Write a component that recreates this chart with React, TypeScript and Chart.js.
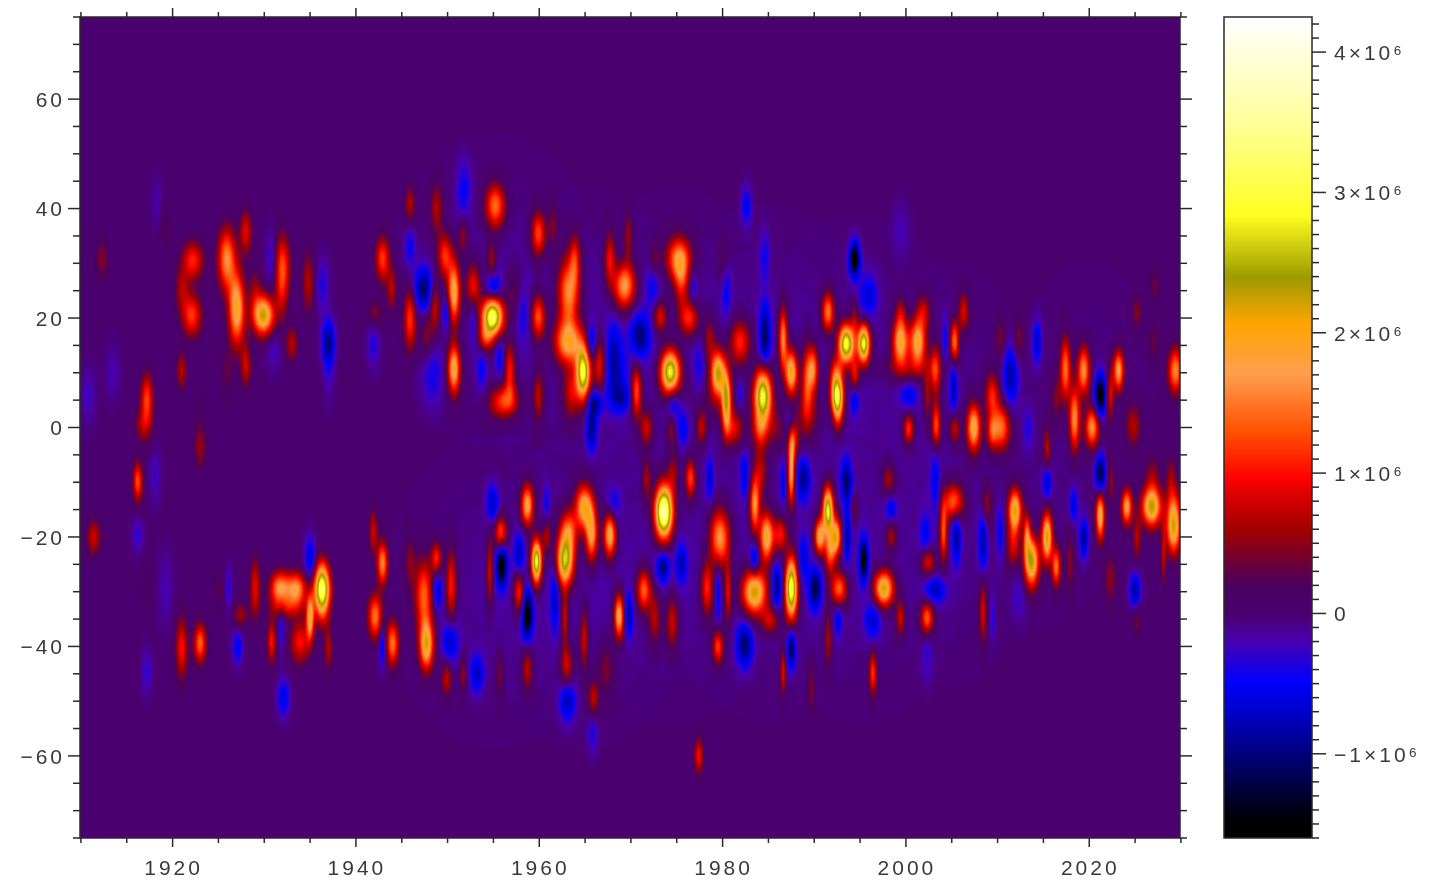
import React, { useEffect, useRef } from "react";
import { Chart, registerables } from "chart.js";
Chart.register(...registerables);

type Blob = [number, number, number, number, number]; // year, latitude, value (10^6), spread in years, spread in degrees

const north1910s: Blob[] = [
  [1912.4, 30.8, 0.45, 0.4, 2.5], [1913.5, 10.1, -0.2, 0.4, 3], [1910.9, 5.9, -0.25, 0.4, 3],
  [1917.3, 5.3, 1.2, 0.35, 2.8], [1916.9, 0.4, 0.6, 0.5, 2], [1919.3, 36.3, 0.25, 0.3, 2.5],
  [1918.4, 41.1, -0.15, 0.3, 3], [1923.1, 4.6, 0.2, 0.3, 2.5], [1923.1, -2.6, 0.3, 0.4, 2.5],
];
const north1920s: Blob[] = [
  [1922.3, 30.5, 1.1, 0.6, 2.2], [1922.2, 20.5, 1.2, 0.55, 2.4], [1921.1, 25.3, 0.6, 0.4, 2.5],
  [1926, 30.8, 1.6, 0.5, 3.5], [1927.1, 21.7, 2.0, 0.45, 4], [1928.1, 35.7, 0.9, 0.35, 2.5],
  [1929.1, 25.3, 0.5, 0.35, 2.5], [1928.1, 11.3, 0.8, 0.3, 2.5], [1926, 10.1, 0.3, 0.4, 3],
  [1921.1, 10.4, 0.7, 0.3, 2.2],
];
const north1930s: Blob[] = [
  [1930, 20.5, 2.3, 0.6, 2.2], [1932.1, 29.6, 1.2, 0.42, 3.5], [1932, 24, 0.5, 0.35, 3],
  [1934.9, 26.5, 0.7, 0.35, 3.5], [1937.1, 15.6, -1.0, 0.35, 2.5], [1937.1, 9.5, -0.2, 0.3, 3],
  [1936.4, 26, -0.35, 0.4, 3], [1930.9, 30.8, -0.35, 0.3, 3], [1933.1, 15.3, 0.7, 0.35, 2],
  [1931.1, 14.4, -0.25, 0.4, 2.5],
];
const north1940s: Blob[] = [
  [1942, 15, -0.35, 0.35, 2.5], [1943, 30.8, 1.2, 0.4, 2.5], [1944, 25.3, 0.7, 0.3, 2.5],
  [1942.2, 21, 0.45, 0.4, 1.5], [1946, 40.8, 0.7, 0.3, 2.2], [1946, 33.2, -0.45, 0.3, 2.5],
  [1946, 19.9, 1.2, 0.35, 3.5], [1947.5, 25.3, -1.0, 0.6, 2.5], [1948.9, 40, 0.7, 0.35, 3],
  [1949.8, 31.4, 1.2, 0.4, 2.5], [1948.7, 22.3, 0.9, 0.3, 3], [1950, 21, -0.6, 0.25, 2],
  [1948.5, 9.5, -0.4, 0.6, 3.5], [1947.8, 16.8, 0.5, 0.35, 2.5],
];
const north1950s: Blob[] = [
  [1950.8, 24.7, 2.0, 0.35, 3.5], [1950.8, 10.7, 2.0, 0.35, 2.8], [1952.9, 25.9, 1.1, 0.4, 2.5],
  [1951.8, 35, 0.6, 0.25, 2], [1955.3, 40.5, 1.5, 0.55, 2.5], [1954.9, 30.8, 0.65, 0.25, 2],
  [1955.1, 25.6, -0.7, 0.4, 1.5], [1955, 20.2, 3.3, 0.6, 2.2], [1954.2, 16.2, 1.0, 0.4, 1.5],
  [1952.9, 19.9, -0.4, 0.2, 3], [1951.8, 42.4, -0.3, 0.4, 3], [1955.8, 13.2, -0.45, 0.25, 2.5],
  [1956.9, 10.7, 1.1, 0.3, 3], [1955.8, 4.6, 0.9, 0.7, 1.8], [1956.9, 5.2, 0.7, 0.6, 1.8],
  [1953.8, 10.7, -0.4, 0.3, 3], [1958.4, 20.5, -0.3, 0.4, 3], [1957.3, 24.7, 0.4, 0.4, 3],
  [1951.9, 45.4, -0.2, 0.4, 3],
];
const north1960s: Blob[] = [
  [1960, 35.4, 1.3, 0.4, 2.5], [1961.6, 36.9, 0.5, 0.3, 2.5], [1960, 20.2, 1.4, 0.4, 2.5],
  [1960, 5.9, 0.8, 0.3, 3], [1963.3, 24.7, 1.7, 0.6, 4], [1964, 30.8, 0.9, 0.3, 3],
  [1963.3, 15.6, 1.9, 0.8, 2.5], [1964.9, 10.1, 3.0, 0.4, 3], [1963.6, 6.5, 0.9, 0.5, 3],
  [1966.7, 11.3, 1.1, 0.35, 3], [1965.8, 15.6, -0.7, 0.3, 2], [1968.4, 8.9, -0.6, 0.7, 3.5],
  [1968.2, 15, -0.5, 0.4, 3], [1969.1, 5.3, -0.5, 0.6, 1.5], [1966.2, 4.6, -0.9, 0.4, 1.5],
  [1965.8, -0.2, -0.9, 0.3, 2.5], [1967.8, 30.8, 1.0, 0.3, 3], [1969.8, 35, 0.6, 0.25, 3],
  [1969.4, 25.9, 1.8, 0.6, 2.5],
];
const north1970s: Blob[] = [
  [1971.1, 16.8, -0.9, 0.55, 2.5], [1973.3, 20.2, 1.0, 0.4, 1.8], [1972.5, 26, -0.4, 0.4, 3],
  [1970.7, 6.5, 1.4, 0.3, 3], [1971.8, 0, 0.9, 0.35, 2], [1972.7, 30.8, 0.5, 0.3, 2],
  [1974.4, 10.1, 3.0, 0.55, 2.5], [1974.7, 4.6, -0.6, 0.35, 2], [1974.5, -0.2, 0.6, 0.25, 1.8],
  [1975.8, -0.2, -0.5, 0.3, 2], [1975.3, 30.8, 1.6, 0.7, 2.5], [1975.6, 26.5, 1.0, 0.4, 3],
  [1976.4, 19.9, 1.2, 0.55, 2], [1976.9, 25.9, -0.4, 0.2, 2], [1978.7, 16.2, 0.7, 0.35, 2.5],
  [1977.8, 0, 0.8, 0.3, 2], [1977.6, 10.7, -0.35, 0.3, 3], [1979.6, 10.1, 2.2, 0.4, 2.5],
];
const north1980s: Blob[] = [
  [1982, 15.6, 1.2, 0.6, 2.5], [1980.5, 25.3, -0.45, 0.25, 3], [1982.7, 40.5, -0.55, 0.3, 2.2],
  [1984.7, 31.4, -0.4, 0.3, 3], [1984.7, 16.8, -1.0, 0.3, 3.5], [1980.5, 4.6, 2.0, 0.25, 3.5],
  [1982, 5.9, -0.5, 0.25, 2], [1984.5, 5.9, 3.0, 0.5, 3], [1986.7, 16.2, 1.7, 0.25, 3.5],
  [1987.6, 10.1, 2.2, 0.35, 2.5], [1989.3, 8.9, 1.2, 0.3, 4], [1981.3, -0.2, 0.9, 0.5, 2],
  [1987.3, 0.4, -0.6, 0.3, 2], [1984.2, -0.2, 0.8, 0.4, 2], [1987.8, -2.6, 0.9, 0.3, 2],
  [1980.2, 30.2, 0.3, 0.3, 2.5], [1980, 6, 0.5, 1.2, 3], [1986, 0, 0.5, 1.5, 2.5],
];
const north1990s: Blob[] = [
  [1994.5, 30.8, -1.6, 0.3, 2], [1996, 24.1, -0.6, 0.5, 2.5], [1991.6, 21.1, 1.6, 0.35, 2.2],
  [1993.6, 15.3, 3.1, 0.45, 2.2], [1995.5, 15.3, 3.0, 0.35, 2.2], [1992.6, 5.9, 2.9, 0.35, 2.2],
  [1992.5, 10.1, 1.0, 0.4, 2], [1992.7, 2.2, 0.9, 0.3, 2], [1990, 10.7, 1.5, 0.3, 2.5],
  [1994.5, 9.5, 1.0, 0.25, 2], [1994.5, 5.3, -0.6, 0.25, 1.7], [1994.5, 19.9, 0.6, 0.2, 2],
  [1999.5, 15.6, 2.0, 0.45, 2.6], [1999.5, 21, 0.6, 0.3, 2], [1999.5, 36.3, -0.2, 0.5, 3],
  [1989.5, 3, 0.6, 0.6, 3],
];
const north2000s: Blob[] = [
  [2001.4, 15.6, 2.0, 0.45, 2.6], [2002, 21.1, 0.8, 0.4, 2], [2003.3, 10.4, 1.2, 0.3, 3],
  [2000.4, 5.9, -0.5, 0.5, 1.5], [2000.4, -0.2, 1.2, 0.3, 1.7], [2003.4, 0.4, 1.4, 0.25, 2.5],
  [2002.4, 5.9, 0.7, 0.2, 3], [2005.4, 15.6, 1.6, 0.25, 2.3], [2006.4, 21.1, 0.9, 0.3, 2.2],
  [2005.3, 7.7, -0.7, 0.2, 3.5], [2004.4, 16.2, -0.4, 0.2, 2.5], [2005.4, -0.2, 0.9, 0.3, 1.8],
  [2007.5, 0, 2.0, 0.4, 2.7], [2009.5, 5.9, 1.1, 0.4, 2.5], [2000.5, 11, 0.5, 1.6, 1.5],
];
const north2010s: Blob[] = [
  [2010.5, 0, 1.5, 0.5, 2.5], [2009.5, -0.8, 1.0, 0.3, 2], [2011.5, 9.5, -0.8, 0.45, 3.5],
  [2013.4, -0.2, -0.35, 0.3, 2.5], [2014.4, 15.6, -0.7, 0.25, 2.5], [2010.4, 16.2, 0.45, 0.3, 2.5],
  [2012.4, 16.2, 0.45, 0.3, 2.5], [2017.5, 10.7, 1.5, 0.3, 3.5], [2019.5, 10.4, 1.7, 0.35, 2.7],
  [2018.5, 1.6, 1.7, 0.3, 3.5], [2016.5, 5.3, 0.5, 0.3, 2.5], [2015.5, -3.8, 0.8, 0.2, 2.5],
];
const north2020s: Blob[] = [
  [2020.4, 0, 1.7, 0.4, 2.2], [2021.3, 5.9, -1.6, 0.3, 2.3], [2022.4, 5.9, 0.9, 0.2, 3],
  [2023.3, 10.4, 1.8, 0.3, 2.3], [2024.9, 0.4, 0.7, 0.45, 2.5], [2025.3, 21.1, 0.5, 0.3, 2],
  [2027.3, 25.9, 0.35, 0.3, 2], [2029.5, 10.4, 1.6, 0.4, 2.5], [2027.1, 15.6, 0.35, 0.3, 2.5],
];

const south1910s: Blob[] = [
  [1916.3, -9.9, 1.3, 0.27, 2.2], [1911.5, -20, 0.8, 0.4, 2], [1916.3, -19.6, -0.3, 0.3, 2],
  [1918.2, -8.7, -0.25, 0.3, 3], [1923.1, -4.4, 0.3, 0.3, 2.5], [1917.3, -29.4, 0.2, 0.3, 2.5],
  [1919.3, -29.4, -0.2, 0.4, 4], [1917.3, -44.6, -0.3, 0.3, 2.5],
];
const south1920s: Blob[] = [
  [1921.1, -40.3, 1.0, 0.35, 3.5], [1923.1, -39.4, 1.4, 0.35, 2.2], [1927.2, -40, -0.55, 0.3, 2],
  [1926.2, -29.4, -0.35, 0.2, 2.5], [1925.1, -29.4, 0.3, 0.3, 2.5], [1929.1, -29.4, 0.9, 0.3, 3.5],
  [1927.5, -34.2, 0.6, 0.4, 1.5],
];
const south1930s: Blob[] = [
  [1932.2, -49.4, -0.6, 0.35, 2.2], [1931.8, -29.4, 1.7, 0.55, 1.9], [1933.6, -29.6, 1.7, 0.55, 1.9],
  [1930.9, -39.1, 1.0, 0.25, 2.5], [1932.5, -33, 0.6, 0.9, 1.2], [1934, -39.1, 1.0, 0.55, 2.5],
  [1935.1, -34.8, 1.9, 0.22, 2.5], [1935.1, -23.9, -0.7, 0.3, 2.5], [1936.4, -29.7, 2.8, 0.45, 2.2],
  [1937.1, -40.3, 0.7, 0.25, 2.5], [1936.4, -26.3, 0.9, 0.4, 2], [1936.4, -33.6, 0.9, 0.4, 2],
  [1932, -36, -0.4, 0.2, 3],
];
const south1940s: Blob[] = [
  [1942, -19, 0.8, 0.25, 2.5], [1943, -24.8, 1.6, 0.3, 2.4], [1942.2, -34.5, 1.5, 0.4, 2.5],
  [1944.1, -39.4, 1.5, 0.35, 2.5], [1943, -39.7, -0.7, 0.2, 2.5], [1947.5, -30.6, 1.4, 0.5, 4],
  [1947.8, -39.7, 2.1, 0.4, 2.8], [1946, -24.5, 0.5, 0.3, 3], [1948.9, -23.9, 1.1, 0.3, 1.8],
  [1949, -29.7, -0.7, 0.3, 2.2], [1950, -45.8, 0.8, 0.3, 2],
];
const south1950s: Blob[] = [
  [1950.4, -39.1, -0.7, 0.45, 2.5], [1950.5, -28.8, 1.1, 0.3, 4], [1951.8, -45.2, 0.6, 0.2, 2],
  [1953.3, -44.9, -0.7, 0.4, 2.2], [1955.8, -45.2, 0.5, 0.2, 2.5], [1954.7, -26.3, 0.9, 0.2, 4],
  [1955, -13.9, -0.7, 0.35, 2.2], [1955.9, -19.3, 1.4, 0.35, 1.9], [1956, -25.1, -1.5, 0.3, 2.5],
  [1957.9, -23.3, -0.7, 0.3, 2.5], [1958.8, -14.2, 1.9, 0.35, 2.3], [1957.9, -30, 1.2, 0.3, 2.4],
  [1958.8, -34.2, -1.5, 0.3, 2.8], [1958.8, -44, 0.8, 0.3, 2.5], [1959.8, -24.5, 3.0, 0.3, 2.5],
];
const south1960s: Blob[] = [
  [1960.9, -19.6, 0.8, 0.25, 2], [1960.9, -14.2, -0.4, 0.2, 2.5], [1961.8, -30.6, -0.7, 0.25, 4],
  [1962.9, -34.8, 0.9, 0.2, 3], [1962.9, -24.5, 2.6, 0.5, 2.8], [1963.3, -19, 1.4, 0.5, 2.5],
  [1963.1, -43.4, 0.9, 0.35, 2.3], [1963.2, -50, -0.75, 0.45, 2.3], [1965, -14.5, 2.0, 0.5, 2.5],
  [1965.8, -19.6, 1.8, 0.35, 3], [1965, -38.5, 0.9, 0.25, 3.5], [1966, -49.4, 0.8, 0.3, 2],
  [1967.8, -19.6, 2.0, 0.35, 2.5], [1968.2, -14.2, -0.45, 0.4, 2], [1967.4, -44, 0.5, 0.45, 3],
  [1968.8, -34.5, 2.0, 0.28, 2.5], [1969.9, -34.2, -0.8, 0.22, 2.5], [1965.9, -55.8, -0.35, 0.3, 2.5],
];
const south1970s: Blob[] = [
  [1971.5, -29.7, 1.5, 0.4, 2.3], [1971.8, -9.3, 0.7, 0.25, 2.5], [1973.7, -15.4, 3.8, 0.5, 3],
  [1973.6, -25.4, -0.9, 0.35, 1.7], [1975.6, -24.8, -0.7, 0.3, 2.2], [1976.6, -9.3, 1.3, 0.3, 2.2],
  [1974.7, -8.1, 0.6, 0.3, 2.5], [1978.7, -9.3, -0.6, 0.2, 2.5], [1972.7, -34.8, 0.8, 0.35, 3],
  [1974.6, -35.5, 0.9, 0.35, 3], [1979.8, -20.2, 1.8, 0.55, 3.2], [1978.4, -29.4, 1.2, 0.35, 3],
  [1977.5, -60, 1.0, 0.25, 2],
];
const south1980s: Blob[] = [
  [1980.7, -30, 1.0, 0.2, 3.5], [1979.6, -30, -0.6, 0.12, 3.5], [1979.6, -40, 1.3, 0.3, 1.9],
  [1982.5, -39.7, -1.0, 0.45, 2.5], [1983.6, -30, 2.4, 0.7, 2.5], [1985.3, -35.2, 0.9, 0.5, 1.5],
  [1983.6, -14.2, 1.7, 0.28, 3], [1984.2, -8.1, 0.8, 0.4, 3], [1984.9, -20, 2.1, 0.4, 2.8],
  [1986.4, -19.6, 1.1, 0.4, 2], [1983.6, -24.2, -0.8, 0.25, 1.8], [1986, -29, -0.9, 0.3, 2.5],
  [1987.6, -29.4, 3.2, 0.35, 3.5], [1987.6, -8.1, 1.9, 0.2, 3.8], [1988.9, -9.3, -0.9, 0.35, 2.3],
  [1988.9, -23.9, -0.6, 0.3, 2.5], [1987.6, -40.3, -1.1, 0.25, 2.3], [1986.7, -44.6, 1.0, 0.15, 2.5],
  [1982.5, -8.7, -0.6, 0.25, 2.5], [1986.7, -10, -0.5, 0.15, 2.5], [1989.8, -47.6, 0.5, 0.2, 3],
];
const south1990s: Blob[] = [
  [1991.6, -15.1, 2.9, 0.3, 2.6], [1990.7, -19.9, 2.0, 0.3, 2], [1992.5, -19.9, 2.0, 0.3, 2.2],
  [1991.8, -22.7, 1.4, 0.3, 2.5], [1992.8, -29.4, 1.5, 0.45, 1.9], [1990.2, -29.4, -1.1, 0.35, 2.3],
  [1993.6, -9.9, -1.0, 0.3, 2.5], [1993.7, -19.6, -0.8, 0.2, 3], [1995.5, -24.2, -1.4, 0.25, 2.5],
  [1991.6, -38.5, 0.7, 0.2, 3.5], [1992.7, -35.2, -0.6, 0.22, 1.8], [1998.2, -9.3, 0.7, 0.35, 1.7],
  [1998.5, -14.8, -0.5, 0.3, 1.3], [1998.5, -20, 0.7, 0.3, 1.6], [1997.7, -29.4, 2.3, 0.55, 2],
  [1996.5, -35.2, -0.65, 0.45, 2.2], [1999.5, -34.8, 0.9, 0.25, 2], [1996.5, -44.9, 1.2, 0.22, 2.4],
  [1994.5, -14.8, 0.5, 0.2, 1.5],
];
const south2000s: Blob[] = [
  [2002.4, -34.8, 1.5, 0.35, 1.8], [2003.3, -29.7, -0.7, 0.6, 1.5], [2002.5, -24.5, 1.0, 0.4, 1.5],
  [2004.2, -19, 1.4, 0.22, 3.5], [2005.3, -13.6, 1.5, 0.55, 2], [2005.6, -20, -0.8, 0.25, 3],
  [2008.9, -14.2, 0.6, 0.3, 2.5], [2008.5, -20.6, -0.8, 0.25, 3.5], [2002.2, -19.6, -0.5, 0.3, 2.5],
  [2003.3, -9.9, -0.5, 0.25, 4], [2008.5, -33.6, 0.9, 0.2, 3.5], [2009.6, -34.8, -0.35, 0.15, 2.5],
  [2002.4, -41, -0.25, 0.3, 3.5],
];
const south2010s: Blob[] = [
  [2010.4, -19, -0.5, 0.2, 3], [2012, -15.1, 2.2, 0.38, 2.4], [2011.8, -21.5, 0.9, 0.35, 2.5],
  [2013.8, -24.5, 2.4, 0.42, 2.8], [2013.3, -19.6, 1.3, 0.2, 2.5], [2015.5, -20, 2.3, 0.3, 2.8],
  [2016.5, -25.4, 1.5, 0.25, 2.2], [2018, -24.5, 0.5, 0.25, 3.5], [2019.5, -20.2, -0.9, 0.25, 2.2],
  [2015.5, -9.9, -0.7, 0.25, 2], [2018.4, -14.2, -0.6, 0.25, 2], [2012.5, -30.6, -0.25, 0.4, 3],
];
const south2020s: Blob[] = [
  [2021.3, -8.7, -1.3, 0.27, 2.3], [2021.3, -16, 2.0, 0.25, 2.8], [2024.2, -14.5, 1.8, 0.3, 2],
  [2026.9, -14.5, 2.3, 0.55, 2.2], [2029.3, -16, 1.5, 0.4, 3], [2029.3, -19.6, 1.2, 0.4, 2.5],
  [2025.1, -29.7, -0.9, 0.3, 2], [2025.3, -20.2, 0.7, 0.22, 2.5], [2028.2, -23.3, 0.7, 0.15, 3.5],
  [2022.4, -27.6, 0.5, 0.35, 3], [2025.3, -35.2, 0.4, 0.25, 2], [2027, -9, 0.5, 0.4, 2.5],
  [2029, -9, 0.5, 0.3, 2.5], [2022.5, -10, 0.5, 0.2, 3],
];
const bandHaze: Blob[] = [
  [1955, 25, -0.1, 4, 12], [1965, 15, -0.1, 4, 12], [1975, 15, -0.1, 4, 12], [1985, 12, -0.1, 4, 12],
  [1995, 10, -0.1, 4, 12], [2005, 8, -0.07, 3, 10], [2020, 10, -0.05, 3, 10], [1955, -30, -0.1, 4, 12],
  [1965, -30, -0.1, 4, 12], [1975, -25, -0.1, 4, 12], [1985, -25, -0.1, 4, 12], [1995, -25, -0.1, 4, 12],
  [2005, -20, -0.08, 3, 12], [2015, -15, -0.06, 3, 10],
];

const allBlobs: Blob[] = [
  ...bandHaze,
  ...north1910s, ...north1920s, ...north1930s, ...north1940s, ...north1950s, ...north1960s,
  ...north1970s, ...north1980s, ...north1990s, ...north2000s, ...north2010s, ...north2020s,
  ...south1910s, ...south1920s, ...south1930s, ...south1940s, ...south1950s, ...south1960s,
  ...south1970s, ...south1980s, ...south1990s, ...south2000s, ...south2010s, ...south2020s,
];

const yearLabels = [1920, 1940, 1960, 1980, 2000, 2020];
const latLabels = [-60, -40, -20, 0, 20, 40, 60];
const fluxLabels = [-1, 0, 1, 2, 3, 4];
const yearMinor = [1910, 1915, 1925, 1930, 1935, 1945, 1950, 1955, 1965, 1970, 1975, 1985, 1990, 1995, 2005, 2010, 2015, 2025, 2030];
const latMinor = [-75, -70, -65, -55, -50, -45, -35, -30, -25, -15, -10, -5, 5, 10, 15, 25, 30, 35, 45, 50, 55, 65, 70, 75];

const colorStops: [number, [number, number, number]][] = [
  [-1.6, [0, 0, 0]], [-1.45, [0, 0, 5]], [-1.0, [0, 0, 122]], [-0.48, [0, 0, 255]], [-0.19, [72, 0, 176]],
  [0, [75, 0, 112]], [0.21, [74, 0, 96]], [0.6, [160, 0, 0]], [0.86, [221, 0, 0]], [0.97, [255, 0, 0]],
  [1.3, [255, 80, 0]], [1.72, [255, 159, 80]], [2.07, [255, 165, 0]], [2.4, [158, 154, 0]],
  [2.85, [255, 255, 32]], [3.5, [255, 255, 153]], [4.25, [255, 255, 255]],
];

function colorAt(v: number): [number, number, number] {
  if (v <= colorStops[0][0]) return colorStops[0][1];
  for (let i = 1; i < colorStops.length; i++) {
    const [b, cb] = colorStops[i];
    if (v <= b) {
      const [a, ca] = colorStops[i - 1];
      const t = (v - a) / (b - a);
      return [ca[0] + (cb[0] - ca[0]) * t, ca[1] + (cb[1] - ca[1]) * t, ca[2] + (cb[2] - ca[2]) * t];
    }
  }
  return [255, 255, 255];
}

const FIELD_FULL = 5; // 10^6 held by one full channel while points accumulate
const SPREAD_X = 1.35;
const SPREAD_Y = 1.12;
const YEAR_START = 1909.9;
const YEAR_END = 2029.9;
const spriteCache = new Map<string, HTMLCanvasElement>();

function spriteFor(raw: any, chart: any) {
  const pxYear = Math.abs(chart.scales.x.getPixelForValue(1911) - chart.scales.x.getPixelForValue(1910));
  const pxLat = Math.abs(chart.scales.y.getPixelForValue(1) - chart.scales.y.getPixelForValue(0));
  if (!(pxYear > 0) || !(pxLat > 0)) return "circle";
  const key = `${raw.v}|${raw.sx}|${raw.sy}|${pxYear}|${pxLat}`;
  const hit = spriteCache.get(key);
  if (hit) return hit;
  const sx = raw.sx * pxYear * SPREAD_X;
  const sy = raw.sy * pxLat * SPREAD_Y;
  const hw = Math.ceil(sx * 3.4);
  const hh = Math.ceil(sy * 3.4);
  const c = document.createElement("canvas");
  c.width = hw * 2 + 1;
  c.height = hh * 2 + 1;
  const g = c.getContext("2d")!;
  const img = g.createImageData(c.width, c.height);
  const amp = (Math.abs(raw.v) / FIELD_FULL) * 255;
  for (let j = 0; j < c.height; j++) {
    for (let i = 0; i < c.width; i++) {
      const dx = (i - hw) / sx;
      const dy = (j - hh) / sy;
      const a = amp * Math.exp(-0.5 * (dx * dx + dy * dy));
      const o = (j * c.width + i) * 4;
      img.data[o + (raw.v > 0 ? 0 : 1)] = Math.round(a);
      img.data[o + 3] = 255;
    }
  }
  g.putImageData(img, 0, 0);
  spriteCache.set(key, c);
  return c;
}

const fieldPlugin = {
  id: "field",
  beforeDatasetsDraw(chart: any) {
    const { ctx, chartArea: a } = chart;
    ctx.save();
    ctx.fillStyle = "#000";
    ctx.fillRect(a.left, a.top, a.right - a.left, a.bottom - a.top);
    ctx.globalCompositeOperation = "lighter";
  },
  afterDatasetsDraw(chart: any) {
    const { ctx, chartArea: a } = chart;
    ctx.restore();
    const lut: [number, number, number][] = [];
    for (let d = -255; d <= 255; d++) lut.push(colorAt((d / 255) * FIELD_FULL));
    const w = Math.round(a.right - a.left);
    const h = Math.round(a.bottom - a.top);
    const img = ctx.getImageData(Math.round(a.left), Math.round(a.top), w, h);
    const p = img.data;
    for (let i = 0; i < p.length; i += 4) {
      const c = lut[p[i] - p[i + 1] + 255];
      p[i] = c[0];
      p[i + 1] = c[1];
      p[i + 2] = c[2];
      p[i + 3] = 255;
    }
    ctx.putImageData(img, Math.round(a.left), Math.round(a.top));
  },
};

const INK = "#2a2a2a";

function tick(ctx: any, x1: number, y1: number, x2: number, y2: number) {
  ctx.beginPath();
  ctx.moveTo(x1, y1);
  ctx.lineTo(x2, y2);
  ctx.stroke();
}

const spacingPlugin = {
  id: "spacing",
  beforeDraw(chart: any) {
    chart.ctx.letterSpacing = "3px";
  },
};

const mainFrame = {
  id: "mainFrame",
  afterDraw(chart: any) {
    const { ctx, chartArea: a, scales } = chart;
    ctx.save();
    ctx.strokeStyle = INK;
    ctx.lineWidth = 1.5;
    ctx.strokeRect(a.left, a.top, a.right - a.left, a.bottom - a.top);
    const xs = (vals: number[], len: number) =>
      vals.forEach((v) => {
        const p = scales.x.getPixelForValue(v);
        tick(ctx, p, a.top, p, a.top - len);
        tick(ctx, p, a.bottom, p, a.bottom + len);
      });
    const ys = (vals: number[], len: number) =>
      vals.forEach((v) => {
        const p = scales.y.getPixelForValue(v);
        tick(ctx, a.left, p, a.left - len, p);
        tick(ctx, a.right, p, a.right + len, p);
      });
    xs(yearLabels, 9);
    xs(yearMinor, 5);
    ys(latLabels, 12);
    ys(latMinor, 7);
    ctx.restore();
  },
};

const barFrame = {
  id: "barFrame",
  afterDraw(chart: any) {
    const { ctx, chartArea: a, scales } = chart;
    ctx.save();
    ctx.strokeStyle = INK;
    ctx.lineWidth = 1.5;
    ctx.strokeRect(a.left, a.top, a.right - a.left, a.bottom - a.top);
    const lo = Math.ceil(scales.y.min * 10);
    const hi = Math.floor(scales.y.max * 10);
    for (let i = lo; i <= hi; i++) {
      const p = scales.y.getPixelForValue(i / 10);
      tick(ctx, a.right, p, a.right + (i % 10 === 0 ? 14 : 7), p);
    }
    ctx.restore();
  },
};

const FONT = { family: '"Liberation Sans", Arial, sans-serif', size: 21 };

export default function App() {
  const mainRef = useRef<HTMLCanvasElement>(null);
  const barRef = useRef<HTMLCanvasElement>(null);

  useEffect(() => {
    const main = new Chart(mainRef.current!, {
      type: "scatter",
      data: {
        datasets: [
          {
            data: allBlobs.map(([x, y, v, sx, sy]) => ({ x: x + (YEAR_START - 1910), y, v, sx, sy })) as any,
            showLine: false,
            clip: 0 as any,
            pointRadius: 1,
            pointBorderWidth: 0,
            pointStyle: (c: any) => (c.raw ? spriteFor(c.raw, c.chart) : "circle"),
          } as any,
        ],
      },
      options: {
        animation: false,
        responsive: false,
        devicePixelRatio: 1,
        events: [],
        layout: { padding: { top: 17, right: 35, left: 0, bottom: 0 } },
        plugins: { legend: { display: false }, tooltip: { enabled: false } },
        scales: {
          x: {
            type: "linear",
            min: YEAR_START,
            max: YEAR_END,
            grid: { display: false, drawTicks: false },
            border: { display: false },
            afterBuildTicks: (s: any) => { s.ticks = yearLabels.map((value) => ({ value })); },
            afterFit: (s: any) => { s.height = 42; s.paddingLeft = 0; s.paddingRight = 0; },
            ticks: {
              autoSkip: false,
              maxRotation: 0,
              color: "#3a3a3a",
              font: FONT,
              padding: 19,
              labelOffset: 1,
              callback: (v: any) => String(v),
            },
          },
          y: {
            type: "linear",
            min: -75,
            max: 75,
            grid: { display: false, drawTicks: false },
            border: { display: false },
            afterBuildTicks: (s: any) => { s.ticks = latLabels.map((value) => ({ value })); },
            afterFit: (s: any) => { s.width = 80; s.paddingTop = 0; s.paddingBottom = 0; },
            ticks: {
              autoSkip: false,
              color: "#3a3a3a",
              font: FONT,
              padding: 15,
              labelOffset: 2,
              callback: (v: any) => (Number(v) < 0 ? `\u2212${Math.abs(Number(v))}` : String(v)),
            },
          },
        },
      } as any,
      plugins: [spacingPlugin, fieldPlugin, mainFrame],
    });

    const levels: number[] = [];
    for (let i = -160; i <= 425; i++) levels.push(i / 100);
    const bar = new Chart(barRef.current!, {
      type: "bar",
      data: {
        datasets: [
          {
            data: levels.map((y) => ({ x: 1, y })) as any,
            backgroundColor: levels.map((y) => {
              const c = colorAt(y);
              return `rgb(${Math.round(c[0])},${Math.round(c[1])},${Math.round(c[2])})`;
            }),
            barThickness: 3,
          } as any,
        ],
      },
      options: {
        indexAxis: "y",
        animation: false,
        responsive: false,
        devicePixelRatio: 1,
        events: [],
        layout: { padding: { top: 17, left: 9, right: 0, bottom: 42 } },
        plugins: { legend: { display: false }, tooltip: { enabled: false } },
        scales: {
          x: { type: "linear", display: false, min: 0, max: 1 },
          y: {
            type: "linear",
            position: "right",
            offset: false,
            min: -1.6,
            max: 4.25,
            grid: { display: false, drawTicks: false, offset: false },
            border: { display: false },
            afterBuildTicks: (s: any) => { s.ticks = fluxLabels.map((value) => ({ value })); },
            afterFit: (s: any) => { s.width = 118; s.paddingTop = 0; s.paddingBottom = 0; },
            ticks: {
              autoSkip: false,
              color: "#3a3a3a",
              font: FONT,
              padding: 22,
              labelOffset: 2,
              callback: (v: any) => {
                const n = Number(v);
                if (n === 0) return "0";
                return `${n < 0 ? "\u2212" : ""}${Math.abs(n)}\u00d710\u2076`;
              },
            },
          },
        },
      } as any,
      plugins: [spacingPlugin, barFrame],
    });

    return () => {
      main.destroy();
      bar.destroy();
    };
  }, []);

  return (
    <div style={{ position: "absolute", left: 0, top: 0, width: 1430, height: 880, background: "#fff" }}>
      <canvas ref={mainRef} width={1215} height={880} style={{ position: "absolute", left: 0, top: 0 }} />
      <canvas ref={barRef} width={215} height={880} style={{ position: "absolute", left: 1215, top: 0 }} />
    </div>
  );
}
